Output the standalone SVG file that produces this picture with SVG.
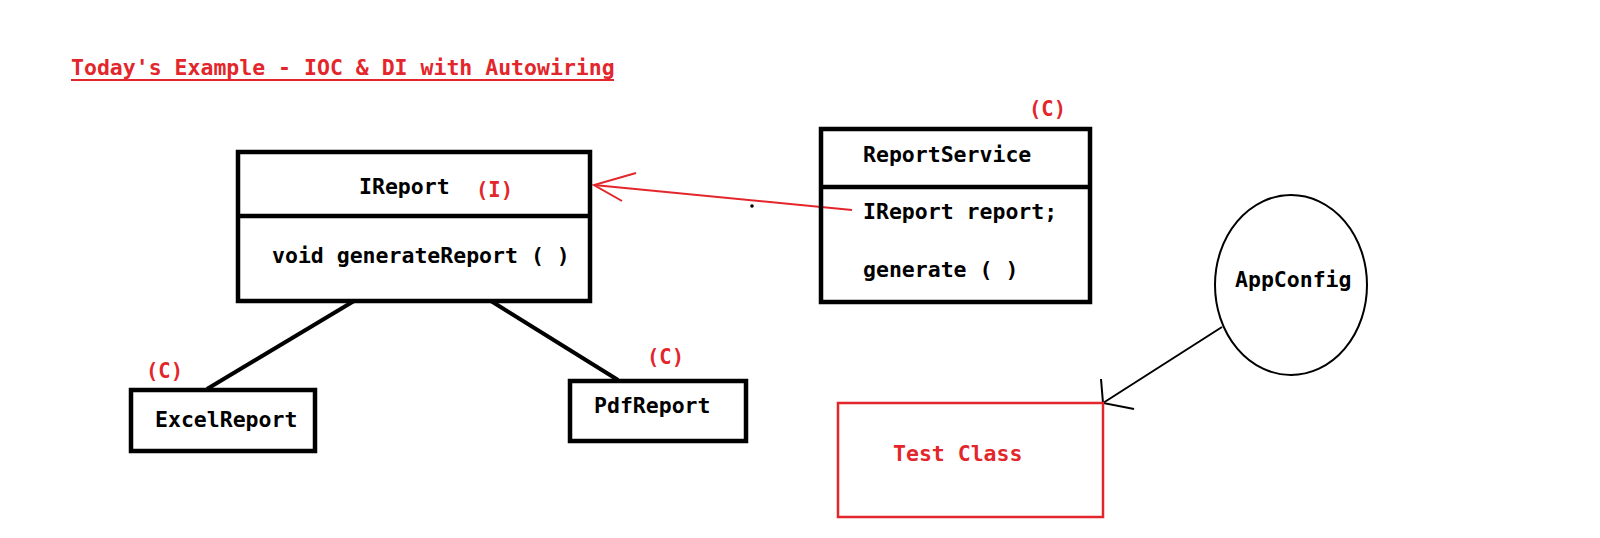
<svg xmlns="http://www.w3.org/2000/svg" width="1600" height="538" viewBox="0 0 1600 538">
<style>
text{font-family:"DejaVu Sans Mono","Liberation Mono",monospace;font-weight:bold;font-size:21.5px;fill:#000}
.red{fill:#e3262b}
.tag{font-size:20.5px}
.box{fill:none;stroke:#000;stroke-width:4.5}
.thin{fill:none;stroke:#000;stroke-width:2}
.rbox{fill:none;stroke:#e3262b;stroke-width:2.5}
.conn{stroke:#000;stroke-width:4;fill:none}
.rconn{stroke:#e3262b;stroke-width:2;fill:none}
.aconn{stroke:#000;stroke-width:2;fill:none}
</style>
<rect width="1600" height="538" fill="#fff"/>
<g id="title">
<text x="71" y="75" class="red">Today's Example - IOC &amp; DI with Autowiring</text>
<line x1="71" y1="80" x2="614" y2="80" stroke="#e3262b" stroke-width="2"/>
</g>
<g id="connectors">
<line class="conn" x1="354" y1="301" x2="207" y2="389"/>
<line class="conn" x1="491" y1="301" x2="618" y2="380"/>
<polyline class="rconn" points="852,210 594,185"/>
<polyline class="rconn" points="636,173 594,185 622,201"/>
<line class="aconn" x1="1222" y1="327" x2="1103" y2="403"/>
<polyline class="aconn" points="1101,379 1103,403 1134,409"/>
<circle cx="752" cy="206" r="1.8" fill="#000"/>
</g>
<g id="IReport">
<rect class="box" x="238" y="152" width="352" height="149"/>
<line class="box" x1="238" y1="216" x2="590" y2="216"/>
<text x="359" y="194">IReport</text>
<text x="476" y="197" class="red tag">(I)</text>
<text x="272" y="263">void generateReport ( )</text>
</g>
<g id="ReportService">
<rect class="box" x="821" y="129" width="269" height="173"/>
<line class="box" x1="821" y1="187" x2="1090" y2="187"/>
<text x="1029" y="116" class="red tag">(C)</text>
<text x="863" y="162">ReportService</text>
<text x="863" y="219">IReport report;</text>
<text x="863" y="277">generate ( )</text>
</g>
<g id="ExcelReport">
<rect class="box" x="131" y="390" width="184" height="61"/>
<text x="146" y="378" class="red tag">(C)</text>
<text x="155" y="427">ExcelReport</text>
</g>
<g id="PdfReport">
<rect class="box" x="570" y="381" width="176" height="60"/>
<text x="647" y="364" class="red tag">(C)</text>
<text x="594" y="413">PdfReport</text>
</g>
<g id="AppConfig">
<ellipse class="thin" cx="1291" cy="285" rx="76" ry="90"/>
<text x="1235" y="287">AppConfig</text>
</g>
<g id="TestClass">
<rect class="rbox" x="838" y="403" width="265" height="114"/>
<text x="893" y="461" class="red">Test Class</text>
</g>
</svg>
